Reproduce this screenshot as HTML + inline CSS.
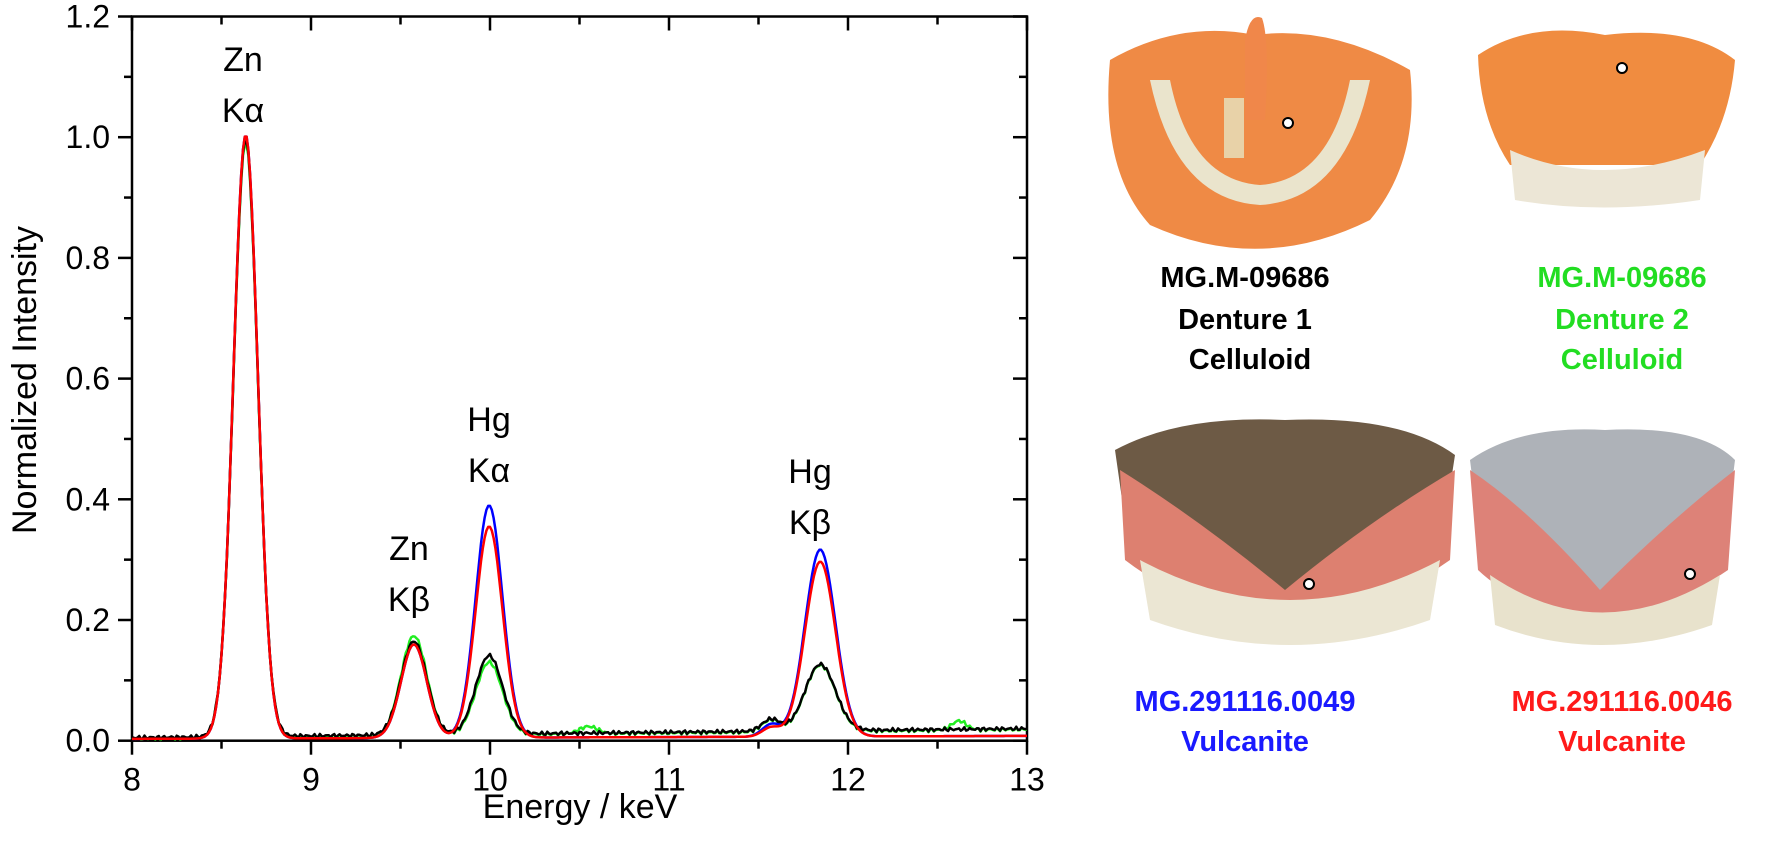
<!DOCTYPE html>
<html><head><meta charset="utf-8"><style>
html,body{margin:0;padding:0;background:#fff;}
svg text{font-family:"Liberation Sans",Arial,sans-serif;}
</style></head><body>
<svg id="s" width="1770" height="860" viewBox="0 0 1770 860" xmlns="http://www.w3.org/2000/svg">
<rect width="1770" height="860" fill="#fff"/>
<g>
  <path d="M1110,60 Q1180,20 1255,35 Q1330,25 1410,70 Q1420,160 1370,220 Q1260,275 1150,225 Q1100,170 1110,60Z" fill="#ef8a45"/>
  <path d="M1245,40 Q1250,12 1262,18 Q1270,40 1265,120 L1245,120Z" fill="#f0874a"/>
  <path d="M1150,80 Q1175,200 1260,205 Q1345,200 1370,80 L1350,80 Q1330,180 1260,185 Q1190,180 1170,80Z" fill="#eae4cc"/>
  <rect x="1224" y="98" width="20" height="60" fill="#e8d2a8"/>
  <circle cx="1288" cy="123" r="5" fill="#fff" stroke="#000" stroke-width="2"/>
  <path d="M1478,55 Q1530,20 1605,35 Q1690,25 1735,60 Q1730,120 1700,165 L1510,165 Q1480,120 1478,55Z" fill="#f08c40"/>
  <path d="M1510,150 Q1600,190 1705,150 L1700,200 Q1600,215 1515,200Z" fill="#ece6d6"/>
  <circle cx="1622" cy="68" r="5" fill="#fff" stroke="#000" stroke-width="2"/>
  <path d="M1115,450 Q1180,415 1285,420 Q1400,415 1455,455 L1445,520 Q1390,590 1285,590 Q1180,590 1125,520Z" fill="#6d5a45"/>
  <path d="M1120,470 Q1200,520 1285,590 Q1370,520 1455,470 L1450,560 Q1380,610 1285,620 Q1190,610 1125,560Z" fill="#dd8070"/>
  <path d="M1140,560 Q1290,640 1440,560 L1430,620 Q1290,670 1150,620Z" fill="#ebe6d3"/>
  <circle cx="1309" cy="584" r="5" fill="#fff" stroke="#000" stroke-width="2"/>
  <path d="M1470,460 Q1520,425 1605,430 Q1700,425 1735,460 L1725,540 Q1660,590 1600,590 Q1520,590 1480,540Z" fill="#aeb2b8"/>
  <path d="M1470,470 Q1530,510 1600,590 Q1670,520 1735,470 L1728,570 Q1670,610 1600,620 Q1520,610 1478,570Z" fill="#dd8278"/>
  <path d="M1490,575 Q1600,650 1720,575 L1712,625 Q1600,665 1495,625Z" fill="#e8e2cc"/>
  <circle cx="1690" cy="574" r="5" fill="#fff" stroke="#000" stroke-width="2"/>
</g>
<g font-weight="bold" font-size="29" text-anchor="middle">
  <text x="1245" y="287" fill="#000">MG.M-09686</text>
  <text x="1245" y="329" fill="#000">Denture 1</text>
  <text x="1250" y="369" fill="#000">Celluloid</text>
  <text x="1622" y="287" fill="#22dd22">MG.M-09686</text>
  <text x="1622" y="329" fill="#22dd22">Denture 2</text>
  <text x="1622" y="369" fill="#22dd22">Celluloid</text>
  <text x="1245" y="711" fill="#1a1aff">MG.291116.0049</text>
  <text x="1245" y="751" fill="#1a1aff">Vulcanite</text>
  <text x="1622" y="711" fill="#ff1a1a">MG.291116.0046</text>
  <text x="1622" y="751" fill="#ff1a1a">Vulcanite</text>
</g>
<g id="ax" stroke="#000" stroke-width="2.5" fill="none"></g>
<g id="curves" fill="none" stroke-width="2.5" stroke-linejoin="round"></g>
<g id="tl" font-size="32" fill="#000"></g>
<g font-size="34" fill="#000" text-anchor="middle">
  <text x="243" y="71">Zn</text><text x="243" y="122">Kα</text>
  <text x="489" y="431">Hg</text><text x="489" y="482">Kα</text>
  <text x="409" y="560">Zn</text><text x="409" y="611">Kβ</text>
  <text x="810" y="483">Hg</text><text x="810" y="534">Kβ</text>
  <text x="580" y="818">Energy / keV</text>
  <text transform="translate(36,380) rotate(-90)">Normalized Intensity</text>
</g>
</svg>
<script>
const X0=132,KX=179,Y0=740.7,KY=603.5;
const px=e=>X0+(e-8)*KX, py=v=>Y0-v*KY;
const ns="http://www.w3.org/2000/svg";
function el(p,t,a,txt){const e=document.createElementNS(ns,t);for(const k in a)e.setAttribute(k,a[k]);if(txt!=null)e.textContent=txt;p.appendChild(e);return e;}
const ax=document.getElementById('ax'),tl=document.getElementById('tl');
el(ax,'rect',{x:px(8),y:py(1.2),width:px(13)-px(8),height:py(0)-py(1.2)});
for(let i=0;i<=12;i++){const v=i/10,y=py(v),L=i%2==0?14:8;
 el(ax,'line',{x1:px(8)-L,y1:y,x2:px(8),y2:y});
 el(ax,'line',{x1:px(13),y1:y,x2:px(13)-L,y2:y});
 if(i%2==0)el(tl,'text',{x:px(8)-22,y:y+11,'text-anchor':'end'},v.toFixed(1));}
for(let i=0;i<=10;i++){const e=8+i/2,x=px(e),L=i%2==0?14:8;
 el(ax,'line',{x1:x,y1:py(0),x2:x,y2:py(0)+L});
 el(ax,'line',{x1:x,y1:py(1.2),x2:x,y2:py(1.2)+L});
 if(i%2==0)el(tl,'text',{x:x,y:py(0)+50,'text-anchor':'middle'},String(e));}
const g=(e,c,h,s)=>h*Math.exp(-((e-c)**2)/(2*s*s));
function f(e,p){let v=g(e,8.635,p.a,0.068)+g(e,9.575,p.b,0.072)+g(e,9.995,p.c,0.075)+g(e,11.845,p.d,0.085)+g(e,11.57,p.e,0.05)+p.base+(e-8)*p.sl;
 if(p.noise)v+=p.noise*(Math.sin(e*173)+Math.sin(e*391)*0.7);return v;}
const S=[
 {col:'#22ee22',a:0.985,b:0.165,c:0.12,d:0.11,e:0.02,base:0.004,sl:0.003,noise:0.002,extra:1},
 {col:'#0000ff',a:1.0,b:0.155,c:0.385,d:0.31,e:0.02,base:0.003,sl:0.001},
 {col:'#000000',a:0.99,b:0.155,c:0.13,d:0.11,e:0.02,base:0.005,sl:0.003,noise:0.002},
 {col:'#ff0000',a:1.0,b:0.155,c:0.35,d:0.29,e:0.015,base:0.003,sl:0.001}];
const C=document.getElementById('curves');
for(const p of S){let d='';for(let e=8;e<=13.0001;e+=0.01){let v=f(e,p);if(p.extra)v+=g(e,10.55,0.012,0.05)+g(e,12.62,0.015,0.04);d+=(d?'L':'M')+px(e).toFixed(1)+','+py(v).toFixed(1);}
 el(C,'path',{d:d,stroke:p.col});}
</script>
</body></html>
